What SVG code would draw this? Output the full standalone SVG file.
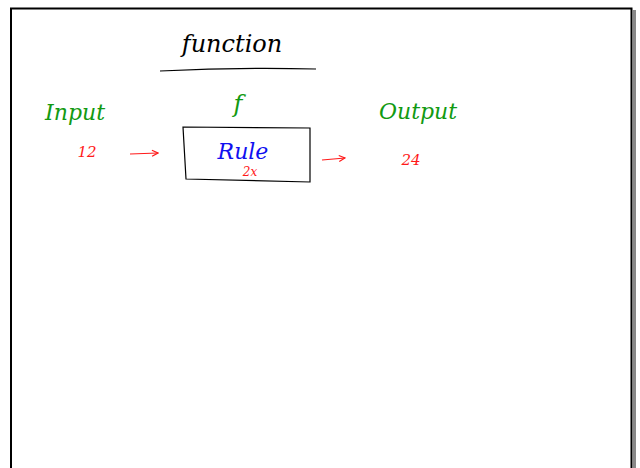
<svg xmlns="http://www.w3.org/2000/svg" width="640" height="468" viewBox="0 0 640 468">
<style>
.hand{font-family:"DejaVu Serif","Liberation Serif",serif;font-style:italic}
.g{fill:#129a12}
.r{fill:#ff1a1a}
.b{fill:#1010f0}
.k{fill:#000}
.arrow{stroke:#ff1a1a;stroke-width:1.2;fill:none}
</style>
<defs>
<marker id="ah" markerWidth="8" markerHeight="8" refX="7" refY="4" orient="auto" markerUnits="userSpaceOnUse">
<path d="M1,1 L7,4 L1,7" fill="none" stroke="#ff1a1a" stroke-width="1.2"/>
</marker>
</defs>
<rect x="0" y="0" width="640" height="468" fill="#fff"/>
<rect x="633" y="10" width="3" height="458" fill="#888"/>
<path d="M11,468 V8.5 H631.5 V468" fill="none" stroke="#000" stroke-width="2"/>
<g id="title">
<text class="hand k" x="232" y="52" font-size="24" text-anchor="middle">function</text>
<path d="M160,71 Q240,67 316,69" stroke="#000" stroke-width="1.2" fill="none"/>
</g>
<g id="input">
<text class="hand g" x="75" y="120" font-size="22" text-anchor="middle">Input</text>
<text class="hand r" x="87" y="157" font-size="15" text-anchor="middle">12</text>
</g>
<g id="function">
<text class="hand g" x="238" y="112" font-size="24" text-anchor="middle">f</text>
<path d="M183,127 L310,128 L310,182 L186,179 Z" fill="none" stroke="#000" stroke-width="1.2"/>
<text class="hand b" x="243" y="159" font-size="22" text-anchor="middle">Rule</text>
<text class="hand r" x="250" y="176" font-size="12" text-anchor="middle">2x</text>
</g>
<g id="output">
<text class="hand g" x="418" y="119" font-size="22" text-anchor="middle">Output</text>
<text class="hand r" x="411" y="165" font-size="15" text-anchor="middle">24</text>
</g>
<g id="connectors">
<path class="arrow" d="M130,154 L158,153" marker-end="url(#ah)"/>
<path class="arrow" d="M322,160 L345,158" marker-end="url(#ah)"/>
</g>
</svg>
